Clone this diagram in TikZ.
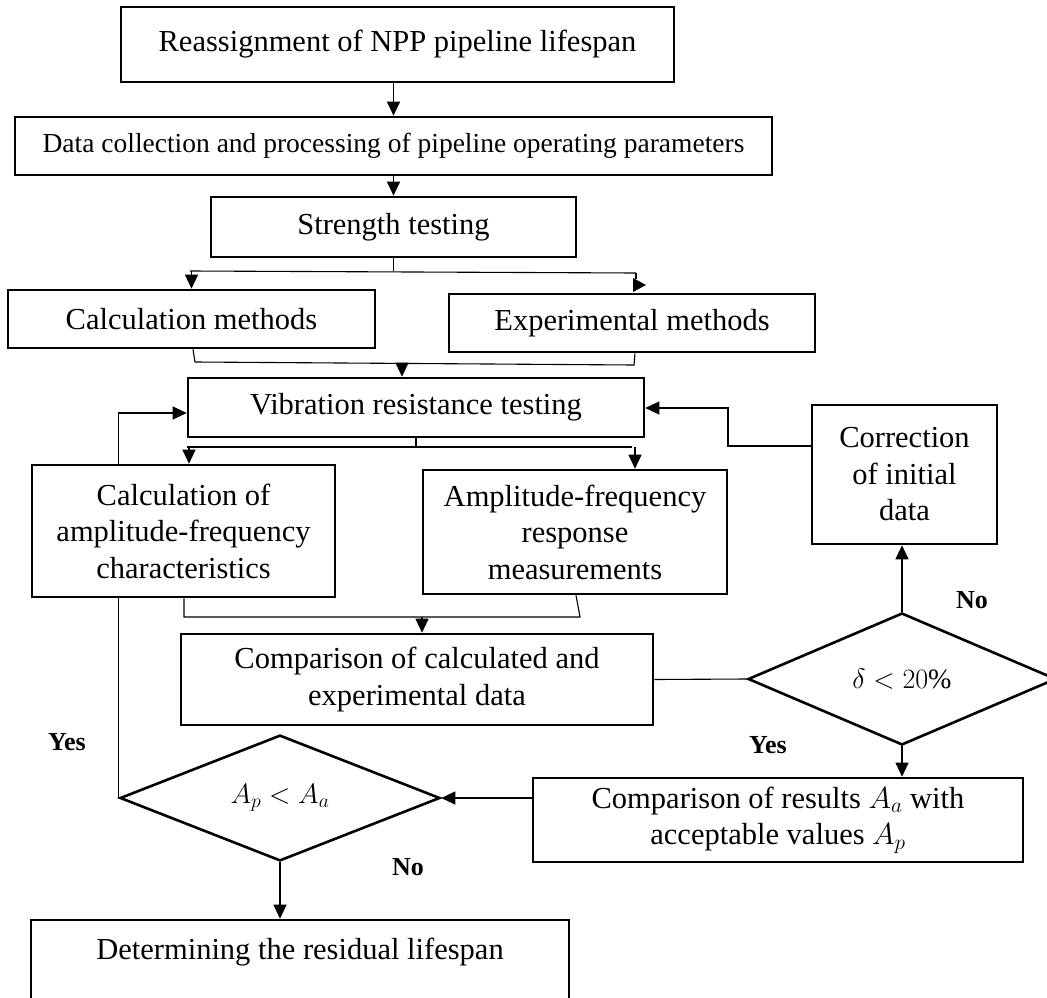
\documentclass[tikz,border=0pt]{standalone}
\usepackage{fix-cm}
\usepackage{fontspec}
\setmainfont{Liberation Serif}
\usetikzlibrary{arrows.meta,shapes.geometric,backgrounds,calc}
\tikzset{
  box/.style={draw, line width=2.6pt, fill=white, rectangle, inner sep=0pt, align=center, font=\fontsize{30.5}{36.5}\selectfont},
  dec/.style={draw, line width=2.6pt, fill=white, diamond, inner sep=0pt, font=\fontsize{28}{34}\selectfont},
  conn/.style={line width=1.1pt},
  arr/.style={conn, -{Triangle[length=14pt,width=13pt]}},
  lbl/.style={font=\fontsize{26}{30}\selectfont\bfseries, inner sep=0pt},
}
\begin{document}
\begin{tikzpicture}[x=1pt,y=-1pt]
\useasboundingbox (0,0) rectangle (1047,998);
\clip (0,0) rectangle (1047,998);

% nodes
\node[box, minimum width=553, minimum height=75] (reassign) at (397.5,44.5) {Reassignment of NPP pipeline lifespan};
\node[box, minimum width=757, minimum height=58, font=\fontsize{27.5}{33}\selectfont] (data) at (393.5,146) {Data collection and processing of pipeline operating parameters};
\node[box, minimum width=365, minimum height=60] (strength) at (393.5,227) {Strength testing};
\node[box, minimum width=367, minimum height=58] (calcm) at (191.5,319) {Calculation methods};
\node[box, minimum width=366, minimum height=58] (expm) at (632,323) {Experimental methods};
\node[box, minimum width=456, minimum height=59] (vib) at (416,407.5) {Vibration resistance testing};
\node[box, minimum width=185, minimum height=139] (corr) at (904.5,474.5) {Correction\\of initial\\data};
\node[box, minimum width=303, minimum height=132] (calcamp) at (183.5,531) {Calculation of\\amplitude-frequency\\characteristics};
\node[box, minimum width=304, minimum height=124] (amp) at (575,532) {Amplitude-frequency\\response\\measurements};
\node[box, minimum width=472, minimum height=91] (comp) at (417,679.5) {Comparison of calculated and\\experimental data};
\node[dec, minimum width=308, minimum height=132] (delta) at (902,679) {$\delta < 20\%$};
\node[dec, minimum width=320, minimum height=124] (Ap) at (280,798) {$A_p < A_a$};
\node[box, minimum width=490, minimum height=84] (results) at (778,820) {Comparison of results $A_a$ with\\acceptable values $A_p$};
\node[box, minimum width=538, minimum height=95] (resid) at (300,967.5) {Determining the residual lifespan\\\mbox{}};

% labels
\node[lbl] (yes1) at (67,742) {Yes};
\node[lbl] (no1) at (408,867) {No};
\node[lbl] (no2) at (972,600) {No};
\node[lbl] (yes2) at (768,745) {Yes};

% helper coordinates
\coordinate (s1L) at (190,271);
\coordinate (s1R) at (636,273);
\coordinate (m1a) at (195,362);
\coordinate (m1b) at (634,365);
\coordinate (m1c) at (402,363);
\coordinate (s2L) at (187,447);
\coordinate (s2R) at (632,447);
\coordinate (s2a) at (189,447);
\coordinate (s2b) at (635,447);
\coordinate (m2a) at (184,617);
\coordinate (m2b) at (580,617);
\coordinate (m2c) at (422,617);
\coordinate (c1) at (728,446);
\coordinate (cy) at (0,408);
\coordinate (loopY) at (0,413);

% connectors
\draw[arr] (data.north |- reassign.south) -- (data.north);
\draw[arr] (data.south) -- (strength.north);

\draw[conn] (strength.south) -- (strength.south |- s1L);
\draw[conn] (s1L) -- (s1R);
\draw[arr] (calcm.north |- s1L) -- (calcm.north);
\draw[conn] (s1R) -- ++(0,6);
\fill (633,278) -- (646,285) -- (633,292) -- cycle;

\draw[conn] ($(calcm.south)+(1.5,0)$) -- (m1a) -- (m1b) -- ($(expm.south)+(3,0)$);
\draw[arr] (m1c) -- (m1c |- vib.north);

\draw[conn] (vib.south) -- (vib.south |- s2L);
\draw[conn] (s2L) -- (s2R);
\draw[arr] (s2a) -- (s2a |- calcamp.north);
\draw[arr] (s2b) -- (s2b |- amp.north);

\draw[conn] ($(calcamp.south)+(0.5,0)$) -- (m2a) -- (m2b) -- ($(amp.south)+(1,0)$);
\draw[arr] (m2c) -- (m2c |- comp.north);

\draw[conn] (comp.east) -- (delta.west);
\draw[arr] (delta.north) -- (delta.north |- corr.south);
\draw[arr] (corr.west |- c1) -- (c1) -- (c1 |- cy) -- (vib.east |- cy);
\draw[arr] (delta.south) -- (delta.south |- results.north);
\draw[arr] (results.west |- Ap.east) -- (Ap.east);
\draw[arr] (Ap.south) -- (Ap.south |- resid.north);

\begin{scope}[on background layer]
\draw[arr] (Ap.west) -- (Ap.west |- loopY) -- (vib.west |- loopY);
\end{scope}
\end{tikzpicture}
\end{document}
